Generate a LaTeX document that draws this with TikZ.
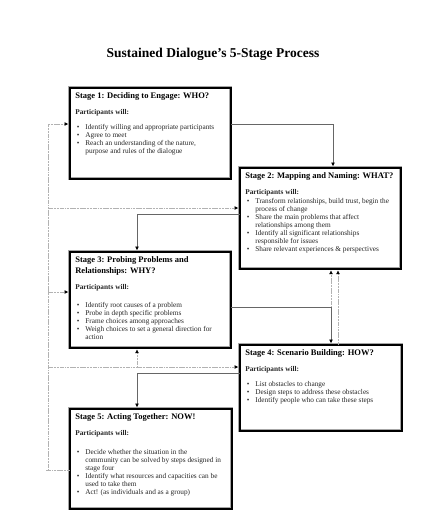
\documentclass[tikz,border=0pt]{standalone}
\usepackage{fontspec}
\setmainfont{Liberation Serif}
\usetikzlibrary{arrows.meta}
\newcommand{\stitle}[1]{{\fontsize{8.5}{11}\selectfont\bfseries\color{black} #1\par}}
\newcommand{\sparts}[1]{\vspace{8pt}{\fontsize{7.3}{8}\selectfont\bfseries Participants will:\par}\vspace{#1pt}}
\newcommand{\stitem}[1]{{\fontsize{7.3}{8}\selectfont\noindent\hangindent=10pt\hangafter=1\hbox to 10pt{\hskip1.5pt\textbullet\hfil}#1\par}}
\begin{document}
\begin{tikzpicture}[x=1pt,y=-1pt,>={Triangle[length=3.5pt,width=3.5pt,color=black]},
  stage/.style={draw=gray!70,double=black,double distance=1.6pt,line width=0.7pt,fill=white,
    inner xsep=5.5pt,inner ysep=5pt,anchor=north west,text=black!85},
  flow/.style={draw=gray!80!black,line width=0.6pt,->,shorten >=1.5pt},
  back/.style={draw=gray!60,line width=0.6pt,dash pattern=on 1.5pt off 0.7pt on 0.4pt off 0.7pt,shorten >=1.5pt}]
\useasboundingbox (0,0) rectangle (439,528);

\node[font=\fontsize{13.5}{15}\selectfont\bfseries] (head) at (213,54) {Sustained Dialogue's 5-Stage Process};

\node[stage] (s1) at (69.5,87.5) {\parbox[t][81pt][t]{150pt}{\raggedright
  \stitle{Stage 1: Deciding to Engage: WHO?}
  \sparts{7}
  \stitem{Identify willing and appropriate participants}
  \stitem{Agree to meet}
  \stitem{Reach an understanding of the nature,\newline purpose and rules of the dialogue}}};
\node[stage] (s2) at (239.5,167.5) {\parbox[t][91pt][t]{150pt}{\raggedright
  \stitle{Stage 2: Mapping and Naming: WHAT?}
  \sparts{1}
  \stitem{Transform relationships, build trust, begin the\newline process of change}
  \stitem{Share the main problems that affect\newline relationships among them}
  \stitem{Identify all significant relationships\newline responsible for issues}
  \stitem{Share relevant experiences \& perspectives}}};
\node[stage] (s3) at (69.5,251.5) {\parbox[t][86pt][t]{150pt}{\raggedright
  \stitle{Stage 3: Probing Problems and\\ Relationships: WHY?}
  \sparts{10}
  \stitem{Identify root causes of a problem}
  \stitem{Probe in depth specific problems}
  \stitem{Frame choices among approaches}
  \stitem{Weigh choices to set a general direction for\newline action}}};
\node[stage] (s4) at (239.5,344.5) {\parbox[t][76pt][t]{151pt}{\raggedright
  \stitle{Stage 4: Scenario Building: HOW?}
  \sparts{7}
  \stitem{List obstacles to change}
  \stitem{Design steps to address these obstacles}
  \stitem{Identify people who can take these steps}}};
\node[stage] (s5) at (69.5,408.5) {\parbox[t][90pt][t]{151pt}{\raggedright
  \stitle{Stage 5: Acting Together: NOW!}
  \sparts{11}
  \stitem{Decide whether the situation in the\newline community can be solved by steps designed in\newline stage four}
  \stitem{Identify what resources and capacities can be\newline used to take them}
  \stitem{Act! (as individuals and as a group)}}};

\coordinate (loop) at (48,470);
\coordinate (fork3) at (137,367);
\coordinate (fork4) at (331,307);

\draw[flow] (s1.east |- 0,124) -| (s2.north -| 333,0);
\draw[flow] (s2.west |- 0,214) -| (s3.north -| 137,0);
\draw[flow] (s3.east |- 0,307) -| (s4.north -| 331,0);
\draw[flow] (s4.west |- 0,373) -| (s5.north -| 137,0);

\draw[back] (s5.west |- loop) -- ([xshift=-4pt]loop);
\draw[back,->] (loop) |- (s1.west |- 0,124);
\draw[back,->] (loop |- 0,208) -- (s2.west |- 0,208);
\draw[back,->] (loop |- 0,292) -- (s3.west |- 0,292);
\draw[back,->] (loop |- fork3) -- (s4.west |- fork3);
\draw[back,->] (fork3) -- (s3.south -| fork3);
\draw[back,->] (fork4) -- (s2.south -| fork4);
\draw[back,->] (s4.north -| 338,0) -- (s2.south -| 338,0);

\end{tikzpicture}
\end{document}
